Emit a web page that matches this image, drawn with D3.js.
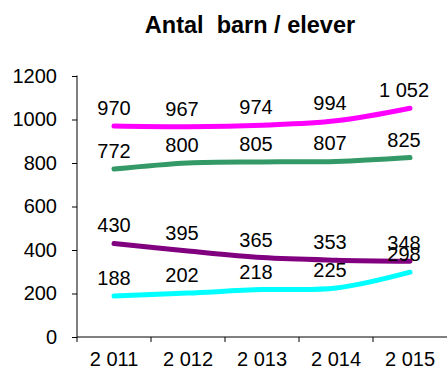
<!DOCTYPE html>
<html>
<head>
<meta charset="utf-8">
<script src="https://cdn.jsdelivr.net/npm/d3@7"></script>
<style>
  html, body { margin: 0; padding: 0; background: #fff; }
  svg { display: block; font-family: "Liberation Sans", Arial, sans-serif; }
</style>
</head>
<body>
<svg id="chart" width="447" height="372"></svg>
<script>
// Number of children / pupils per year
const years = ["2 011", "2 012", "2 013", "2 014", "2 015"];
const yTicks = [0, 200, 400, 600, 800, 1000, 1200];
const seriesA = [970, 967, 974, 994, 1052];
const seriesB = [772, 800, 805, 807, 825];
const seriesC = [430, 395, 365, 353, 348];
const seriesD = [188, 202, 218, 225, 298];
const labelsA = ["970", "967", "974", "994", "1 052"];
const labelsB = ["772", "800", "805", "807", "825"];
const labelsC = ["430", "395", "365", "353", "348"];
const labelsD = ["188", "202", "218", "225", "298"];

const series = [
  { values: seriesA, labels: labelsA, color: "#ff00ff" },
  { values: seriesB, labels: labelsB, color: "#339966" },
  { values: seriesC, labels: labelsC, color: "#800080" },
  { values: seriesD, labels: labelsD, color: "#00ffff" }
];

const svg = d3.select("#chart");
const plot = { left: 77, right: 447, top: 76, bottom: 337 };

const x = d3.scaleBand().domain(years).range([plot.left, plot.right]);
const y = d3.scaleLinear().domain([0, 1200]).range([plot.bottom, plot.top]);
const cx = d => x(d) + x.bandwidth() / 2;

// Title
svg.append("text")
  .attr("x", 250).attr("y", 33)
  .attr("text-anchor", "middle")
  .attr("font-weight", "bold")
  .attr("font-size", 23.5)
  .attr("fill", "#000")
  .attr("xml:space", "preserve")
  .text("Antal  barn / elever");

// Y axis
const yAxis = svg.append("g")
  .attr("transform", `translate(${plot.left},0)`)
  .call(d3.axisLeft(y).tickValues(yTicks).tickSize(5).tickPadding(15).tickFormat(d3.format("d")));
yAxis.select(".domain").attr("stroke", "#000").attr("d", `M0,${plot.top - 0.5}V${plot.bottom}`);
yAxis.selectAll(".tick line").attr("stroke", "#000");
yAxis.selectAll(".tick text").attr("font-size", 20).attr("font-family", "Liberation Sans, Arial, sans-serif").attr("fill", "#000");

// X axis
const xAxis = svg.append("g")
  .attr("transform", `translate(0,${plot.bottom})`)
  .call(d3.axisBottom(x).tickSize(0).tickPadding(15));
xAxis.select(".domain").attr("stroke", "#000").attr("d", `M${plot.left},0H${plot.right}`);
xAxis.selectAll(".tick text").attr("font-size", 20).attr("font-family", "Liberation Sans, Arial, sans-serif").attr("fill", "#000");
// category boundary ticks
xAxis.selectAll(".sep")
  .data(years)
  .join("line")
  .attr("class", "sep")
  .attr("x1", d => x(d)).attr("x2", d => x(d))
  .attr("y1", 0).attr("y2", 5)
  .attr("stroke", "#000");

// Lines
const line = d3.line()
  .x((d, i) => cx(years[i]))
  .y(d => y(d))
  .curve(d3.curveCatmullRom.alpha(0.5));

series.forEach(s => {
  svg.append("path")
    .datum(s.values)
    .attr("d", line)
    .attr("fill", "none")
    .attr("stroke", s.color)
    .attr("stroke-width", 5)
    .attr("stroke-linecap", "round")
    .attr("stroke-linejoin", "round");
});

// Value labels, a little left of each point except the first
series.forEach(s => {
  svg.append("g")
    .selectAll("text")
    .data(s.values)
    .join("text")
    .attr("x", (d, i) => cx(years[i]) - (i === 0 ? 0 : 6))
    .attr("y", d => y(d) - 11)
    .attr("text-anchor", "middle")
    .attr("font-size", 20)
    .attr("fill", "#000")
    .text((d, i) => s.labels[i]);
});
</script>
</body>
</html>
